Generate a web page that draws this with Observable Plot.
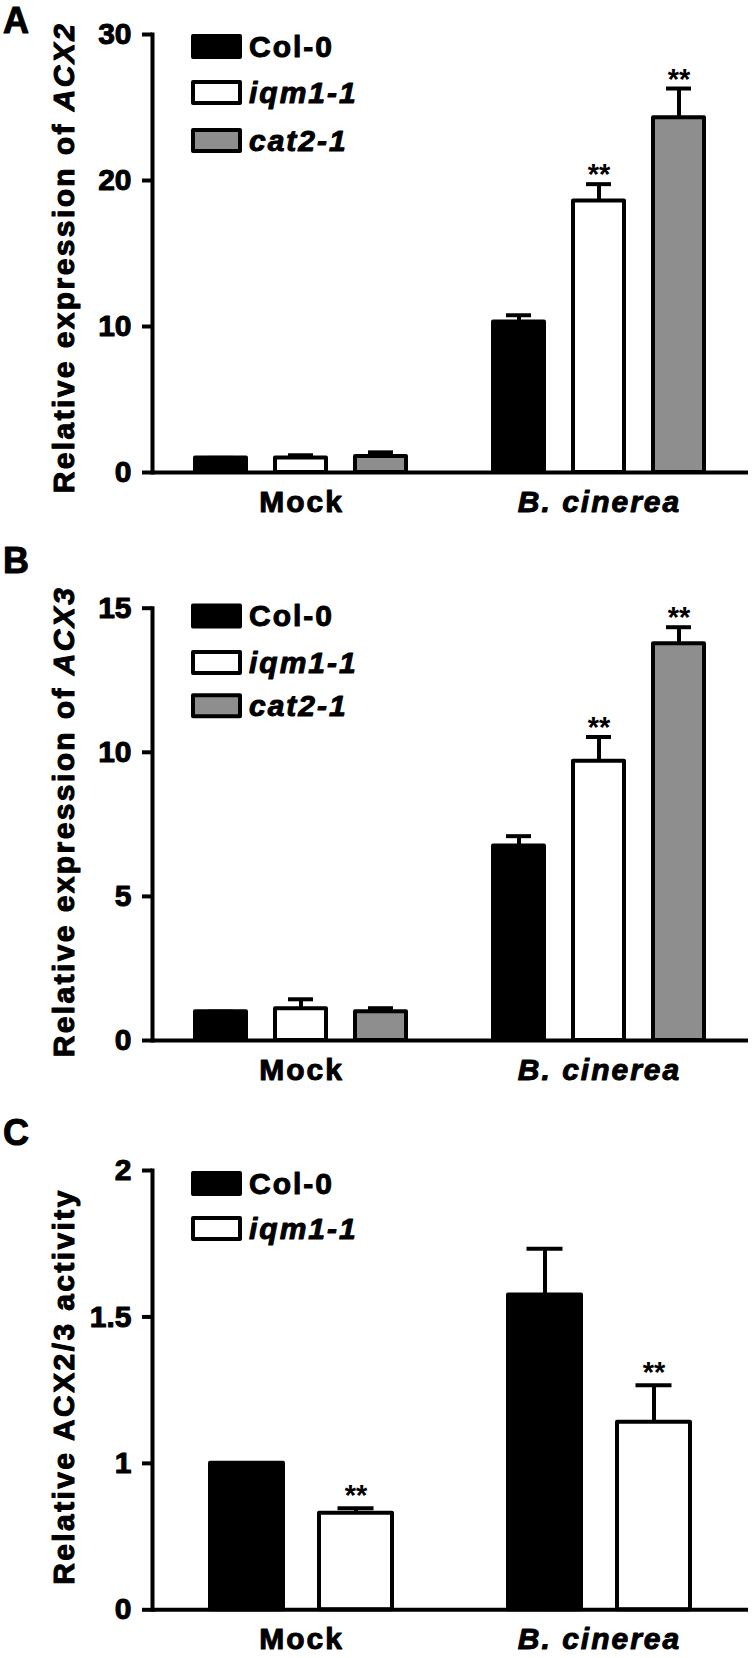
<!DOCTYPE html>
<html><head><meta charset="utf-8">
<script src="https://cdn.jsdelivr.net/npm/d3@7"></script>
<script src="https://cdn.jsdelivr.net/npm/@observablehq/plot@0.6"></script>
<style>
body{margin:0;background:#fff;}
#wrap{width:752px;}
svg{display:block;}
</style></head><body><div id="wrap"></div>
<script>
// ---- data ----
const conditions = ["Mock", "B. cinerea"];
const conditionItalic = [false, true];
const genotypesAB = ["Col-0", "iqm1-1", "cat2-1"];
const genotypesC = ["Col-0", "iqm1-1"];
const genotypeItalic = [false, true, true];
const genotypeFill = ["#000000", "#ffffff", "#8e8e8e"];

// Panel A: relative expression of ACX2 (rows: condition, cols: genotype)
const acx2Mean  = [[1.0, 1.0, 1.1], [10.3, 18.6, 24.3]];
const acx2Upper = [[1.0, 1.18, 1.38], [10.77, 19.75, 26.3]];
const acx2Sig   = [["", "", ""], ["", "**", "**"]];
const yTicksA = [0, 10, 20, 30];
const yTickLabelsA = ["0", "10", "20", "30"];

// Panel B: relative expression of ACX3
const acx3Mean  = [[1.0, 1.1, 1.0], [6.75, 9.69, 13.77]];
const acx3Upper = [[1.0, 1.43, 1.12], [7.09, 10.53, 14.34]];
const acx3Sig   = [["", "", ""], ["", "**", "**"]];
const yTicksB = [0, 5, 10, 15];
const yTickLabelsB = ["0", "5", "10", "15"];

// Panel C: relative ACX2/3 activity (axis starts at 0.5, labelled "0")
const actMean  = [[1.0, 0.83], [1.575, 1.14]];
const actUpper = [[1.0, 0.847], [1.733, 1.267]];
const actSig   = [["", "**"], ["", "**"]];
const yTicksC = [0.5, 1, 1.5, 2];
const yTickLabelsC = ["0", "1", "1.5", "2"];

function rows(genos, mean, upper, sig) {
  const out = [];
  conditions.forEach((c, i) => genos.forEach((g, j) =>
    out.push({condition: c, genotype: g, mean: mean[i][j], upper: upper[i][j], sig: sig[i][j]})));
  return out;
}

const FONT = "'Liberation Sans', Arial, Helvetica, sans-serif";
const LS = 2;      // letter spacing
const TFS = 30;    // text font size
const TKFS = 30;   // tick label font size
const TSW = 1;     // text stroke weight (heavier glyphs)

const panels = [
  {letter: "A", letterY: 33, height: 540, marginTop: 34, marginBottom: 68, domain: [0, 30], baseline: 0,
   ticks: yTicksA, tickLabels: yTickLabelsA, genos: genotypesAB, data: rows(genotypesAB, acx2Mean, acx2Upper, acx2Sig),
   xRange: [194, 408], pad: 0.358, capInset: 13, starDy: 0,
   label: ["Relative expression of ", "ACX2"], labelY: 257.5, legendRows: [46.5, 92.5, 140.5]},
  {letter: "B", letterY: 33, height: 560, marginTop: 67.7, marginBottom: 60, domain: [0, 15], baseline: 0,
   ticks: yTicksB, tickLabels: yTickLabelsB, genos: genotypesAB, data: rows(genotypesAB, acx3Mean, acx3Upper, acx3Sig),
   xRange: [194, 408], pad: 0.358, capInset: 13, starDy: 0,
   label: ["Relative expression of ", "ACX3"], labelY: 281.5, legendRows: [76, 122.5, 165.7]},
  {letter: "C", letterY: 45, height: 558, marginTop: 70, marginBottom: 48.7, domain: [0.5, 2], baseline: 0.5,
   ticks: yTicksC, tickLabels: yTickLabelsC, genos: genotypesC, data: rows(genotypesC, actMean, actUpper, actSig),
   xRange: [209, 393], pad: 0.327, capInset: 18.5, starDy: -3,
   label: ["Relative ACX2/3 activity", ""], labelY: 286.5, legendRows: [83.5, 128.5]}
];

const wrap = document.getElementById("wrap");

function heavy(sel) {
  return sel.attr("stroke", "black").attr("stroke-width", TSW).attr("stroke-linejoin", "round");
}

panels.forEach(p => {
  const data = p.data;
  const chart = Plot.plot({
    width: 752, height: p.height,
    marginLeft: 152, marginRight: 4, marginTop: p.marginTop, marginBottom: p.marginBottom,
    style: {fontFamily: FONT, background: "white", overflow: "visible", color: "black"},
    fx: {domain: conditions, padding: 0},
    x: {domain: p.genos, range: p.xRange, paddingInner: p.pad, paddingOuter: 0, axis: null},
    y: {domain: p.domain},
    color: {domain: genotypesAB, range: genotypeFill},
    marks: [
      Plot.barY(data, {fx: "condition", x: "genotype", y1: p.baseline, y2: "mean", fill: "genotype",
        stroke: "black", strokeWidth: 4, strokeLinejoin: "round"}),
      Plot.ruleX(data, {fx: "condition", x: "genotype", y1: "mean", y2: "upper", stroke: "black", strokeWidth: 4}),
      Plot.tickY(data, {fx: "condition", x: "genotype", y: "upper", stroke: "black", strokeWidth: 4,
        insetLeft: p.capInset, insetRight: p.capInset}),
      Plot.text(data.filter(d => d.sig), {fx: "condition", x: "genotype", y: "upper", text: "sig",
        fontSize: 29, fontWeight: "bold", lineAnchor: "bottom", dy: p.starDy, fill: "black"}),
      Plot.ruleY([p.baseline], {stroke: "black", strokeWidth: 4}),
      Plot.frame({anchor: "left", facetAnchor: "left", stroke: "black", strokeWidth: 4, strokeLinecap: "square"}),
      Plot.axisY({ticks: p.ticks, tickFormat: d => p.tickLabels[p.ticks.indexOf(d)], tickSize: 10, tickPadding: 11,
        stroke: "black", strokeWidth: 4, fontSize: TKFS, fontWeight: "bold", label: null, fill: "black"}),
      Plot.axisFx({anchor: "bottom", tickSize: 0, tickPadding: 18, fontSize: TFS, fontWeight: "bold", label: null, fill: "black"})
    ]
  });
  const svg = d3.select(chart);
  svg.selectAll("text").each(function() {
    const t = this.textContent;
    const i = conditions.indexOf(t);
    if (i >= 0) heavy(d3.select(this).attr("font-style", conditionItalic[i] ? "italic" : "normal")
      .attr("letter-spacing", LS).style("font-size", TFS + "px").style("font-weight", "bold"));
    if (p.tickLabels.includes(t)) heavy(d3.select(this).style("font-size", TKFS + "px").style("font-weight", "bold"));
  });
  // panel letter
  heavy(svg.append("text").attr("x", 3).attr("y", p.letterY).attr("text-anchor", "start").attr("font-family", FONT)
    .attr("font-weight", "bold").attr("font-size", 36).attr("fill", "black").text(p.letter));
  // y label
  const yl = heavy(svg.append("text").attr("transform", `translate(74,${p.labelY}) rotate(-90)`).attr("text-anchor", "middle")
    .attr("font-family", FONT).attr("font-weight", "bold").attr("font-size", TFS).attr("letter-spacing", LS + 0.4).attr("fill", "black"));
  yl.append("tspan").text(p.label[0]);
  if (p.label[1]) yl.append("tspan").attr("font-style", "italic").text(p.label[1]);
  // legend
  const lg = heavy(svg.append("g").attr("font-family", FONT).attr("font-weight", "bold").attr("font-size", TFS)
    .attr("letter-spacing", LS).attr("fill", "black").attr("text-anchor", "start"));
  p.legendRows.forEach((cy, i) => {
    lg.append("rect").attr("x", 193).attr("y", cy - 10.5).attr("width", 47).attr("height", 21)
      .attr("fill", genotypeFill[i]).attr("stroke", "black").attr("stroke-width", 4);
    lg.append("text").attr("x", 249).attr("y", cy + 10.4).attr("font-style", genotypeItalic[i] ? "italic" : "normal")
      .text(p.genos[i]);
  });
  wrap.appendChild(chart);
});
</script></body></html>
